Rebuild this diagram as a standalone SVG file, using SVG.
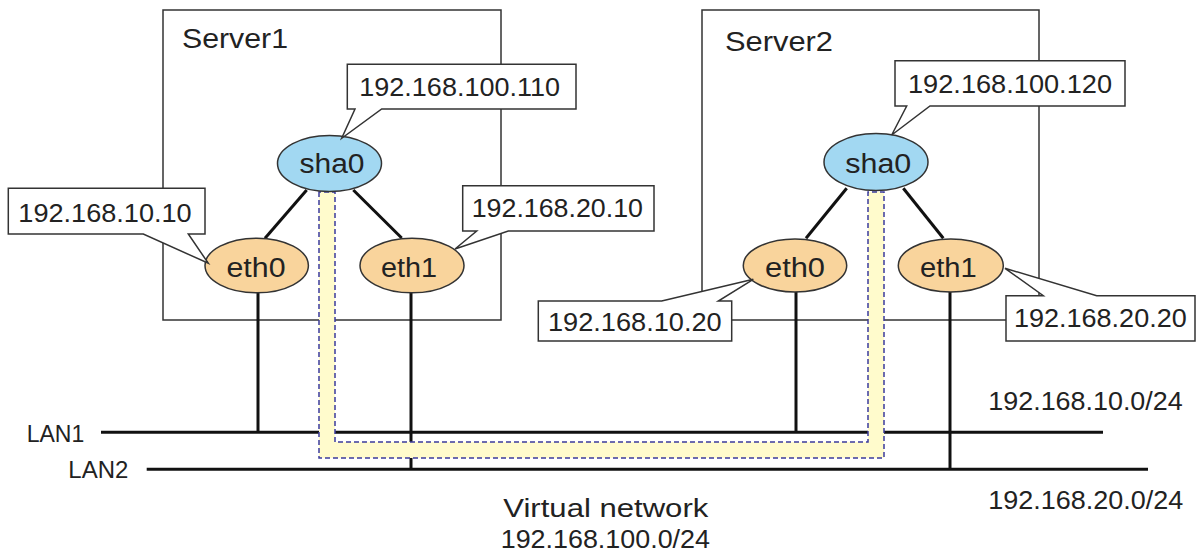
<svg xmlns="http://www.w3.org/2000/svg" width="1197" height="553" viewBox="0 0 1197 553">
<style>
text{font-family:"Liberation Sans",Arial,sans-serif;fill:#222;}
.ip{font-size:26px;}
.lbl{font-size:28px;}
.lan{font-size:24px;}
.node{font-size:27px;text-anchor:middle;}
.box{fill:none;stroke:#333;stroke-width:1.5;}
.call{fill:#fff;stroke:#333;stroke-width:1.5;stroke-linejoin:miter;}
.link{stroke:#111;stroke-width:3;fill:none;}
.thin{stroke:#111;stroke-width:1.5;fill:none;}
.sha{fill:#A2D8F2;stroke:#333;stroke-width:1.5;}
.eth{fill:#F9D49C;stroke:#333;stroke-width:1.5;}
</style>
<rect width="1197" height="553" fill="#fff"/>
<g id="server1-box">
<rect class="box" x="163" y="10" width="338" height="310"/>
<text class="lbl" x="182" y="48" textLength="106" lengthAdjust="spacingAndGlyphs">Server1</text>
</g>
<g id="server2-box">
<rect class="box" x="702" y="10" width="337" height="310"/>
<text class="lbl" x="725" y="50.5" textLength="108" lengthAdjust="spacingAndGlyphs">Server2</text>
</g>
<g id="connectors">
<line class="link" x1="306.7" y1="190" x2="265" y2="238.3"/>
<line class="link" x1="353.3" y1="190" x2="401.7" y2="238"/>
<line class="link" x1="846.7" y1="188.3" x2="806" y2="238.3"/>
<line class="link" x1="903.3" y1="188.3" x2="943.3" y2="238.3"/>
<line class="link" x1="258" y1="292" x2="258" y2="432.3"/>
<line class="link" x1="411" y1="292" x2="411" y2="469.3"/>
<line class="link" x1="796" y1="291" x2="796" y2="432.3"/>
<line class="link" x1="950" y1="291" x2="950" y2="469.3"/>
<line class="link" x1="101" y1="432.3" x2="1103" y2="432.3"/>
<line class="link" x1="146.7" y1="469.3" x2="1148" y2="469.3"/>
</g>
<g id="virtual-network-path">
<path d="M319,192 V458 H884 V192 H868 V442 H335 V192 Z" fill="#FFFBCC" stroke="#3B3B9C" stroke-width="1.5" stroke-dasharray="5,3"/>
</g>
<g id="server1-sha0">
<ellipse class="sha" cx="329.5" cy="163.5" rx="52" ry="28"/>
<text class="node" x="332" y="173.3" textLength="65" lengthAdjust="spacingAndGlyphs">sha0</text>
</g>
<g id="server1-eth0">
<ellipse class="eth" cx="256.7" cy="265.5" rx="51.7" ry="27.3"/>
<text class="node" x="256" y="276.7" textLength="59" lengthAdjust="spacingAndGlyphs">eth0</text>
</g>
<g id="server1-eth1">
<ellipse class="eth" cx="412" cy="265.5" rx="52" ry="27.3"/>
<text class="node" x="409" y="276.7" textLength="56" lengthAdjust="spacingAndGlyphs">eth1</text>
</g>
<g id="server2-sha0">
<ellipse class="sha" cx="876" cy="162" rx="52" ry="28.5"/>
<text class="node" x="878.3" y="173.3" textLength="66" lengthAdjust="spacingAndGlyphs">sha0</text>
</g>
<g id="server2-eth0">
<ellipse class="eth" cx="795" cy="265.5" rx="51.7" ry="26.5"/>
<text class="node" x="795" y="276.7" textLength="60" lengthAdjust="spacingAndGlyphs">eth0</text>
</g>
<g id="server2-eth1">
<ellipse class="eth" cx="950.8" cy="265.5" rx="52.5" ry="26.5"/>
<text class="node" x="948.3" y="276.7" textLength="56.7" lengthAdjust="spacingAndGlyphs">eth1</text>
</g>
<g id="callout-100-110">
<path class="call" d="M347.3,64.3 H576 V109 H381.7 L341.7,138.3 L355,109 H347.3 Z"/>
<text class="ip" x="359.3" y="96.3" textLength="200.7" lengthAdjust="spacingAndGlyphs">192.168.100.110</text>
</g>
<g id="callout-10-10">
<path class="call" d="M8.3,188.3 H205 V234 H188.3 L208.3,263.3 L143.3,234 H8.3 Z"/>
<text class="ip" x="18.3" y="221.5" textLength="173.4" lengthAdjust="spacingAndGlyphs">192.168.10.10</text>
</g>
<g id="callout-20-10">
<path class="call" d="M462.7,185.7 H654 V231 H508.3 L455,249 L476.7,231 H462.7 Z"/>
<text class="ip" x="471.7" y="217" textLength="171.3" lengthAdjust="spacingAndGlyphs">192.168.20.10</text>
</g>
<g id="callout-100-120">
<path class="call" d="M895,60.7 H1125 V106 H930 L891.7,135 L906.7,106 H895 Z"/>
<text class="ip" x="908" y="92.8" textLength="204" lengthAdjust="spacingAndGlyphs">192.168.100.120</text>
</g>
<g id="callout-10-20">
<path class="call" d="M538.3,301 H661.7 L753.3,279.3 L718.3,301 H731.7 V341 H538.3 Z"/>
<text class="ip" x="548" y="330.8" textLength="173.7" lengthAdjust="spacingAndGlyphs">192.168.10.20</text>
</g>
<g id="callout-20-20">
<path class="call" d="M1006,295.7 H1043.3 L1005,268.3 L1096.7,295.7 H1195 V341 H1006 Z"/>
<text class="ip" x="1014" y="327.3" textLength="172.7" lengthAdjust="spacingAndGlyphs">192.168.20.20</text>
</g>
<g id="labels">
<text class="lan" x="26.7" y="441.7" textLength="57.6" lengthAdjust="spacingAndGlyphs">LAN1</text>
<text class="lan" x="68.3" y="478" textLength="60" lengthAdjust="spacingAndGlyphs">LAN2</text>
<text class="ip" x="988.3" y="410" textLength="194.4" lengthAdjust="spacingAndGlyphs">192.168.10.0/24</text>
<text class="ip" x="988.3" y="509" textLength="195" lengthAdjust="spacingAndGlyphs">192.168.20.0/24</text>
<text class="ip" x="503.3" y="516.7" textLength="205" lengthAdjust="spacingAndGlyphs">Virtual network</text>
<text class="ip" x="500.7" y="547.7" textLength="209.3" lengthAdjust="spacingAndGlyphs">192.168.100.0/24</text>
</g>
</svg>
